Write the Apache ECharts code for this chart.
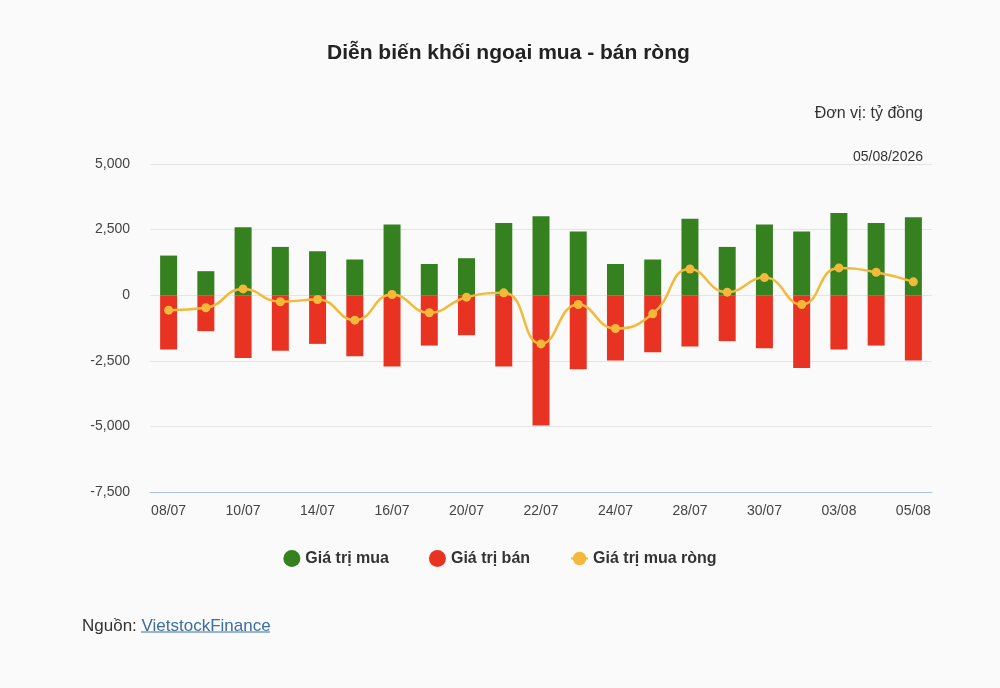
<!DOCTYPE html>
<html>
<head>
<meta charset="utf-8">
<script src="https://cdn.jsdelivr.net/npm/echarts@6/dist/echarts.min.js"></script>
<style>
html, body { margin: 0; padding: 0; background: #fafafa; }
#main { width: 1000px; height: 688px; }
</style>
</head>
<body>
<div id="main"></div>
<script>
var categories = ['08/07', '09/07', '10/07', '11/07', '14/07', '15/07', '16/07', '17/07', '20/07', '21/07',
    '22/07', '23/07', '24/07', '27/07', '28/07', '29/07', '30/07', '31/07', '03/08', '04/08', '05/08'];
var buy_values = [1510, 915, 2590, 1840, 1675, 1360, 2690, 1190, 1410, 2755,
    3010, 2425, 1190, 1360, 2910, 1840, 2690, 2425, 3135, 2755, 2970];
var sell_values = [-2070, -1370, -2390, -2120, -1855, -2330, -2720, -1920, -1525, -2720,
    -4970, -2820, -2490, -2170, -1955, -1750, -2020, -2770, -2070, -1920, -2490];
var net_values = [-570, -480, 240, -250, -165, -950, 25, -670, -75, 90,
    -1855, -355, -1270, -710, 1000, 115, 670, -355, 1040, 875, 510];

var main_chart = echarts.init(document.getElementById('main'));

main_option = {
    backgroundColor: '#fafafa',
    textStyle: { fontFamily: '"Liberation Sans", Arial, sans-serif' },
    title: [
        {
            text: 'Diễn biến khối ngoại mua - bán ròng',
            left: 322,
            top: 38,
            textStyle: { fontSize: 21, fontWeight: 'bold', color: '#222' }
        },
        {
            text: 'Đơn vị: tỷ đồng',
            right: 72,
            top: 101,
            textStyle: { fontSize: 16, fontWeight: 'normal', color: '#333' }
        },
        {
            text: '05/08/2026',
            right: 72,
            top: 145,
            textStyle: { fontSize: 14, fontWeight: 'normal', color: '#333' }
        },
        {
            text: 'Nguồn: {link|VietstockFinance}',
            left: 77,
            top: 613,
            textStyle: {
                fontSize: 17, fontWeight: 'normal', color: '#333',
                rich: { link: { fontSize: 17, color: '#3b6f9e' } }
            }
        }
    ],
    graphic: [
        { type: 'line', shape: { x1: 141, y1: 632, x2: 270, y2: 632 }, style: { stroke: '#3b6f9e', lineWidth: 1 } }
    ],
    legend: {
        top: 545,
        left: 'center',
        itemGap: 40,
        itemWidth: 17,
        itemHeight: 17,
        textStyle: { fontSize: 16, fontWeight: 'bold', color: '#333' },
        data: [
            { name: 'Giá trị mua', icon: 'circle' },
            { name: 'Giá trị bán', icon: 'circle' },
            { name: 'Giá trị mua ròng' }
        ]
    },
    grid: {
        left: 150,
        right: 68,
        top: 164,
        bottom: 196
    },
    xAxis: {
        type: 'category',
        data: categories,
        axisLine: { onZero: false, lineStyle: { color: '#a8c4e0' } },
        axisTick: { show: false },
        axisLabel: { interval: 1, color: '#444', fontSize: 14, margin: 12 }
    },
    yAxis: {
        type: 'value',
        min: -7500,
        max: 5000,
        interval: 2500,
        axisLabel: {
            color: '#444', fontSize: 14, margin: 20,
            formatter: function (v) { return v.toLocaleString('en-US'); }
        },
        splitLine: { lineStyle: { color: '#e4e4e4' } }
    },
    series: [
        {
            name: 'Giá trị mua',
            type: 'bar',
            stack: 'total',
            barWidth: 17,
            itemStyle: { color: '#35801f' },
            data: buy_values
        },
        {
            name: 'Giá trị bán',
            type: 'bar',
            stack: 'total',
            barWidth: 17,
            itemStyle: { color: '#e83323' },
            data: sell_values
        },
        {
            name: 'Giá trị mua ròng',
            type: 'line',
            smooth: true,
            symbol: 'circle',
            symbolSize: 9,
            itemStyle: { color: '#f2b93b' },
            lineStyle: { width: 2.5, color: '#f2b93b' },
            data: net_values
        }
    ],
    animation: false
};

main_chart.setOption(main_option);
</script>
</body>
</html>
